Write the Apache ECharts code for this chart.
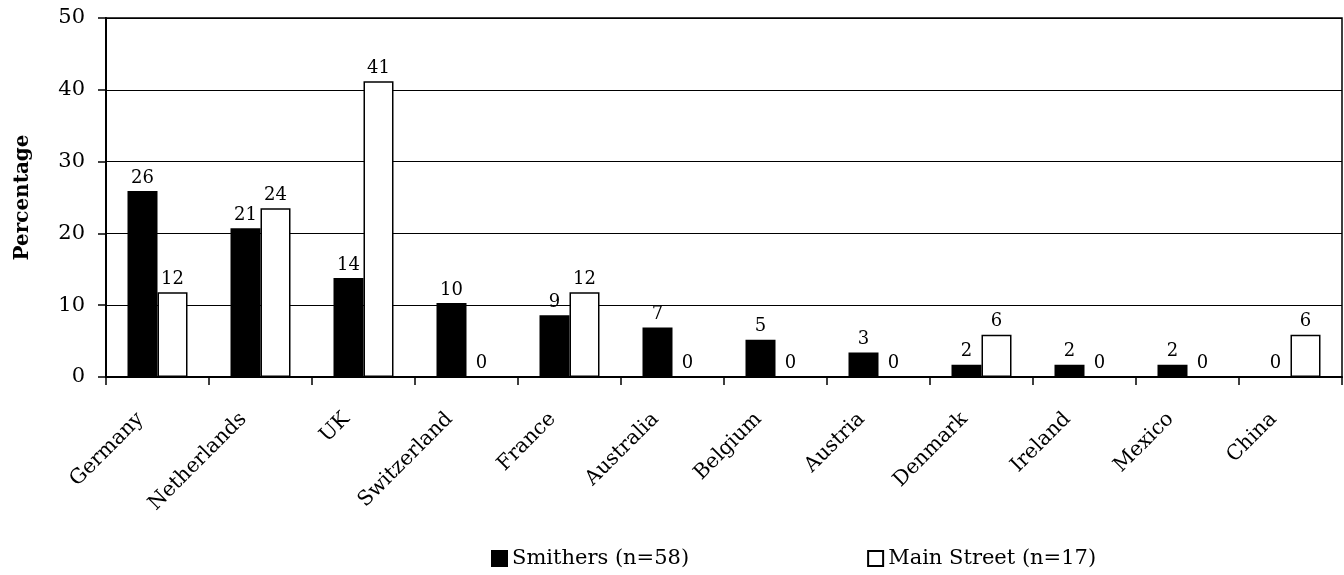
<!DOCTYPE html>
<html>
<head>
<meta charset="utf-8">
<script src="https://cdn.jsdelivr.net/npm/echarts@6/dist/echarts.min.js"></script>
<style>html,body{margin:0;padding:0;background:#fff;}#c{width:1344px;height:575px;}</style>
</head>
<body>
<div id="c"></div>
<script>
var categories = ['Germany','Netherlands','UK','Switzerland','France','Australia','Belgium','Austria','Denmark','Ireland','Mexico','China'];
var smithers = [25.9, 20.7, 13.8, 10.3, 8.6, 6.9, 5.2, 3.4, 1.7, 1.7, 1.7, 0];
var mainStreet = [11.8, 23.5, 41.2, 0, 11.8, 0, 0, 0, 5.9, 0, 0, 5.9];
var yTicks = [0, 10, 20, 30, 40, 50];
var seriesNames = ['Smithers (n=58)', 'Main Street (n=17)'];

var FONT = '"DejaVu Serif", "Liberation Serif", serif';
var chart = echarts.init(document.getElementById('c'), null, {renderer: 'canvas'});
var labelCfg = {
  show: true, position: 'top', distance: 4, color: '#000',
  fontFamily: FONT, fontSize: 18,
  formatter: function (p) { return String(Math.round(p.value)); }
};
chart.setOption({
  animation: false,
  backgroundColor: '#fff',
  grid: {left: 106, right: 2, top: 18, bottom: 198, show: true, borderColor: '#000', borderWidth: 1.5, containLabel: false},
  legend: {
    left: 491, top: 548, padding: 0, itemGap: 178, itemWidth: 15, itemHeight: 15, icon: 'rect',
    textStyle: {fontFamily: FONT, fontSize: 21, color: '#000'},
    data: seriesNames
  },
  xAxis: {
    type: 'category', data: categories,
    axisLine: {lineStyle: {color: '#000', width: 2}},
    axisTick: {show: true, length: 8, lineStyle: {color: '#000', width: 1.5}},
    axisLabel: {rotate: 45, margin: 22, padding: [0, 24, 0, 0], color: '#000', fontFamily: FONT, fontSize: 20.5, interval: 0}
  },
  yAxis: {
    type: 'value', min: yTicks[0], max: yTicks[yTicks.length - 1], interval: 10,
    name: 'Percentage', nameLocation: 'middle', nameGap: 73, nameRotate: 90,
    nameTextStyle: {fontFamily: FONT, fontSize: 20, fontWeight: 'bold', color: '#000'},
    axisLine: {show: true, lineStyle: {color: '#000', width: 2}},
    axisTick: {show: true, length: 8, lineStyle: {color: '#000', width: 1.5}},
    axisLabel: {margin: 21, color: '#000', fontFamily: FONT, fontSize: 21},
    splitLine: {show: true, lineStyle: {color: '#000', width: 1}}
  },
  series: [
    {name: seriesNames[0], type: 'bar', data: smithers, barWidth: 30, barGap: '0%',
     itemStyle: {color: '#000', borderColor: '#000', borderWidth: 1.5}, label: labelCfg},
    {name: seriesNames[1], type: 'bar', data: mainStreet, barWidth: 30, barGap: '0%',
     itemStyle: {color: '#fff', borderColor: '#000', borderWidth: 1.5}, label: labelCfg}
  ]
});
</script>
</body>
</html>
